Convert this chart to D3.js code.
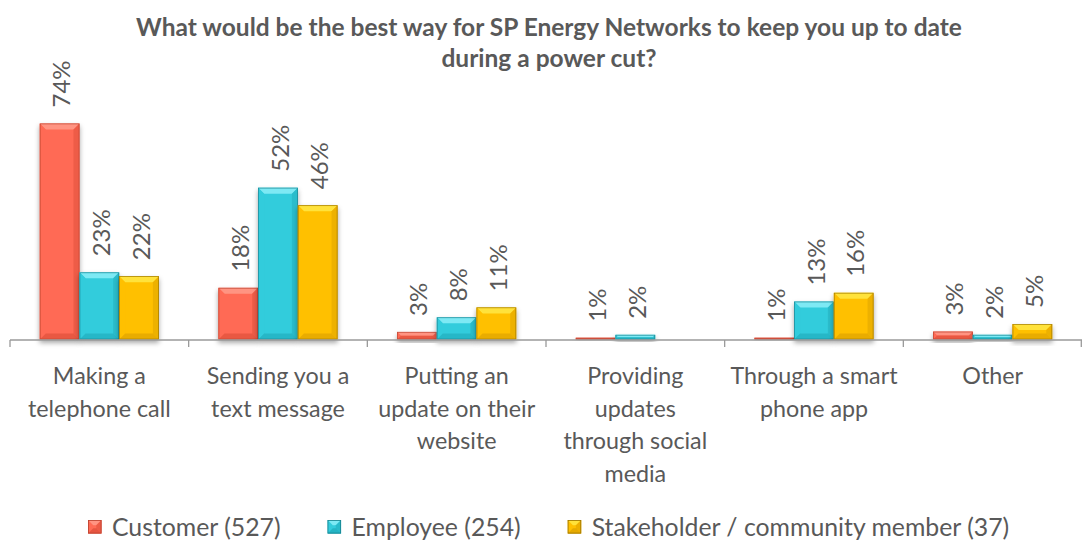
<!DOCTYPE html>
<html>
<head>
<meta charset="utf-8">
<script src="https://cdn.jsdelivr.net/npm/d3@7"></script>
<style>
  html, body { margin: 0; padding: 0; background: #ffffff; }
  svg { display: block; }
  text { font-family: Lato, "Open Sans", sans-serif; fill: #595959; }
</style>
</head>
<body>
<svg id="chart" width="1082" height="540"></svg>
<script>
// ---- Data ----
const titleLines = ["What would be the best way for SP Energy Networks to keep you up to date", "during a power cut?"];
const categories = [
  "Making a\ntelephone call",
  "Sending you a\ntext message",
  "Putting an\nupdate on their\nwebsite",
  "Providing\nupdates\nthrough social\nmedia",
  "Through a smart\nphone app",
  "Other"
];
const seriesNames = ["Customer (527)", "Employee (254)", "Stakeholder / community member (37)"];
const customer    = [0.74, 0.177, 0.026, 0.006, 0.006, 0.027];
const employee    = [0.23, 0.52, 0.076, 0.016, 0.13, 0.016];
const stakeholder = [0.217, 0.46, 0.11, 0, 0.16, 0.053];
const seriesColors = [
  { base: "#FF6B55", light: "#FF9482", dark: "#E0503C", edge: "#B9412F" },
  { base: "#33CCDC", light: "#7DE9F4", dark: "#22AEBE", edge: "#17818D" },
  { base: "#FFC000", light: "#FFE23A", dark: "#DFA400", edge: "#9A7300" }
];

// ---- Layout ----
const W = 1082, H = 540;
const plot = { left: 10, right: 1082, top: 106, bottom: 339.5 };
const svg = d3.select("#chart");

const defs = svg.append("defs");
const f = defs.append("filter").attr("id", "shadow").attr("x", "-20%").attr("y", "-20%").attr("width", "140%").attr("height", "160%");
f.append("feDropShadow").attr("dx", 0).attr("dy", 3).attr("stdDeviation", 2.5).attr("flood-color", "#000").attr("flood-opacity", 0.35);

const x0 = d3.scaleBand().domain(d3.range(categories.length)).range([plot.left, plot.right]).padding(0);
const step = x0.step();
const bw = step / 4.5; // gap width 150%
const x1 = d3.scaleBand().domain(d3.range(seriesNames.length)).range([bw * 0.75, step - bw * 0.75]).padding(0);
const y = d3.scaleLinear().domain([0, 0.8]).range([plot.bottom, plot.top]);
const fmt = d3.format(".0%");

const series = [customer, employee, stakeholder];

// Title
const title = svg.append("text").attr("text-anchor", "middle")
  .style("font-weight", "bold").style("font-size", "24.5px");
titleLines.forEach((t, i) => {
  title.append("tspan").attr("x", 549).attr("y", 36 + i * 30.5).text(t);
});

// Bars with bevel
function bevelBar(g, x, yTop, w, h, c) {
  if (h <= 0) return;
  const b = Math.min(6, h / 2, w / 2);
  const grp = g.append("g").attr("filter", "url(#shadow)");
  grp.append("rect").attr("x", x).attr("y", yTop).attr("width", w).attr("height", h)
    .attr("fill", c.base);
  const yb = yTop + h;
  grp.append("polygon").attr("points", [[x, yTop], [x + w, yTop], [x + w - b, yTop + b], [x + b, yTop + b]].join(" "))
    .attr("fill", c.light);
  grp.append("polygon").attr("points", [[x, yTop], [x + b, yTop + b], [x + b, yb - b], [x, yb]].join(" "))
    .attr("fill", c.base).attr("opacity", 0.9);
  grp.append("polygon").attr("points", [[x + w, yTop], [x + w - b, yTop + b], [x + w - b, yb - b], [x + w, yb]].join(" "))
    .attr("fill", c.dark).attr("opacity", 0.55);
  grp.append("polygon").attr("points", [[x, yb], [x + b, yb - b], [x + w - b, yb - b], [x + w, yb]].join(" "))
    .attr("fill", c.dark).attr("opacity", 0.7);
  grp.append("rect").attr("x", x + 0.4).attr("y", yTop + 0.4).attr("width", Math.max(0, w - 0.8)).attr("height", Math.max(0, h - 0.8))
    .attr("fill", "none").attr("stroke", c.edge).attr("stroke-width", 0.8).attr("opacity", 0.8);
}

const barsG = svg.append("g");
series.forEach((vals, s) => {
  vals.forEach((v, i) => {
    const bx = x0(i) + x1(s);
    const yTop = y(v);
    bevelBar(barsG, bx, yTop, x1.bandwidth(), plot.bottom - yTop, seriesColors[s]);
  });
});

// Axis line and ticks
const axisG = svg.append("g");
axisG.append("line").attr("x1", plot.left).attr("x2", plot.right).attr("y1", 340).attr("y2", 340)
  .attr("stroke", "#9a9a9a").attr("stroke-width", 1.3);
d3.range(categories.length + 1).forEach(i => {
  const tx = Math.min(plot.left + i * step, plot.right - 0.7);
  axisG.append("line").attr("x1", tx).attr("x2", tx).attr("y1", 340).attr("y2", 347)
    .attr("stroke", "#9a9a9a").attr("stroke-width", 1.3);
});

// Data labels
const labelsG = svg.append("g");
series.forEach((vals, s) => {
  vals.forEach((v, i) => {
    if (v <= 0) return;
    const cx = x0(i) + x1(s) + x1.bandwidth() / 2;
    const ty = y(v) - 16;
    labelsG.append("text")
      .attr("transform", `translate(${cx + 1},${ty}) rotate(-90)`)
      .attr("dominant-baseline", "central")
      .attr("text-anchor", "start")
      .style("font-size", "24px")
      .text(fmt(v));
  });
});

// Category labels
const catG = svg.append("g");
categories.forEach((c, i) => {
  const t = catG.append("text").attr("text-anchor", "middle").style("font-size", "23.3px");
  c.split("\n").forEach((line, k) => {
    t.append("tspan").attr("x", x0(i) + step / 2).attr("y", 384 + k * 32.5).text(line);
  });
});

// Legend
const legG = svg.append("g");
let lx = 88;
seriesNames.forEach((name, s) => {
  const sw = 13.5;
  bevelLegend(legG, lx, 520, sw, seriesColors[s]);
  const t = legG.append("text").attr("x", lx + sw + 10.5).attr("y", 535.5)
    .style("font-size", "24.8px").text(name);
  const tw = t.node().getComputedTextLength();
  lx = lx + sw + 10.5 + tw + 47;
});

function bevelLegend(g, x, yTop, w, c) {
  const b = w / 2 - 1.5;
  g.append("rect").attr("x", x).attr("y", yTop).attr("width", w).attr("height", w).attr("fill", c.base);
  g.append("polygon").attr("points", [[x, yTop], [x + w, yTop], [x + w - b, yTop + b], [x + b, yTop + b]].join(" ")).attr("fill", c.light);
  g.append("polygon").attr("points", [[x + w, yTop], [x + w - b, yTop + b], [x + w - b, yTop + w - b], [x + w, yTop + w]].join(" ")).attr("fill", c.dark).attr("opacity", 0.6);
  g.append("polygon").attr("points", [[x, yTop + w], [x + b, yTop + w - b], [x + w - b, yTop + w - b], [x + w, yTop + w]].join(" ")).attr("fill", c.dark).attr("opacity", 0.8);
  g.append("rect").attr("x", x + 0.4).attr("y", yTop + 0.4).attr("width", w - 0.8).attr("height", w - 0.8).attr("fill", "none").attr("stroke", c.edge).attr("stroke-width", 0.8);
}
</script>
</body>
</html>
